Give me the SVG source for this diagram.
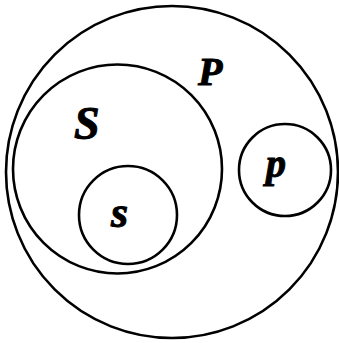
<svg xmlns="http://www.w3.org/2000/svg" width="339" height="343" viewBox="0 0 339 343">
<style>
circle{fill:none;stroke:#000;stroke-width:2.6}
text{font-family:"Liberation Serif","DejaVu Serif",serif;font-weight:bold;font-style:italic;fill:#000;stroke:#000;stroke-width:1}
</style>
<rect width="339" height="343" fill="#fff"/>
<g id="P"><circle cx="172" cy="172" r="166"/><text x="198" y="85" font-size="40">P</text></g>
<g id="S"><circle cx="117.5" cy="169" r="104.5"/><text x="74" y="139" font-size="46">S</text></g>
<g id="s"><circle cx="128" cy="215" r="49"/><text x="111" y="227" font-size="44">s</text></g>
<g id="p"><circle cx="285" cy="170" r="46"/><text x="266" y="177" font-size="40">p</text></g>
<g id="connectors"/>
</svg>
